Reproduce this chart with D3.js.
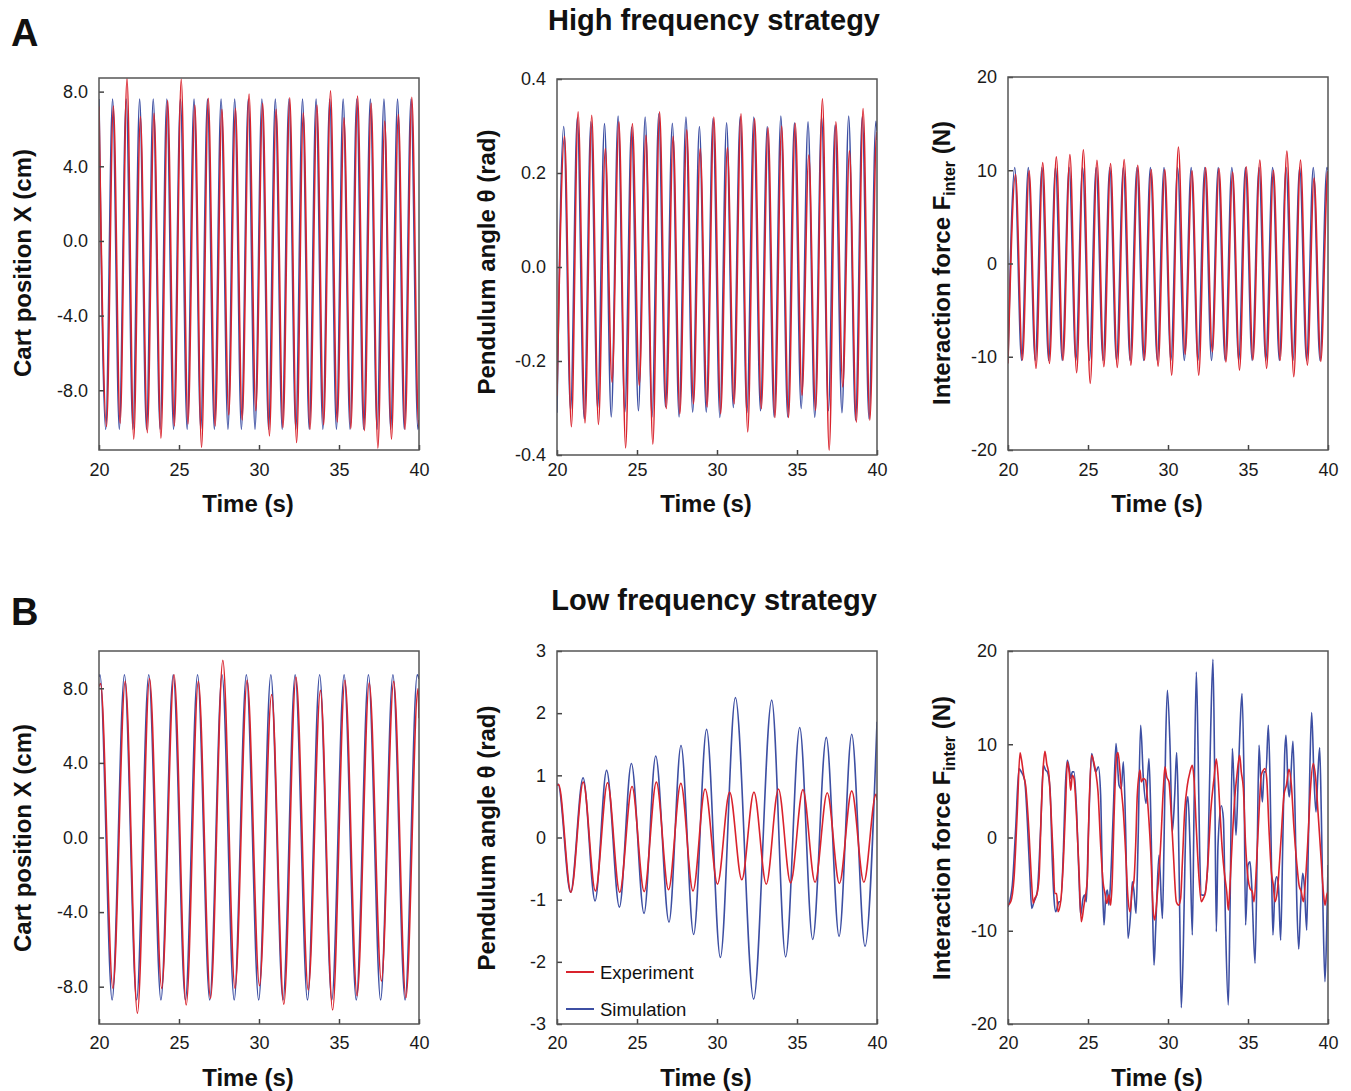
<!DOCTYPE html>
<html><head><meta charset="utf-8">
<script src="https://cdn.jsdelivr.net/npm/d3@7"></script>
<style>body{margin:0;background:#fff}</style>
</head><body><svg id="c" width="1351" height="1091" xmlns="http://www.w3.org/2000/svg"></svg>
<script>
// ---------- DATA ----------
const xTickValues = [20, 25, 30, 35, 40];

// High frequency: times of extrema (simulation / experiment)
const hfTime = [20.00, 20.42, 20.85, 21.27, 21.70, 22.12, 22.54, 22.97, 23.39, 23.82, 24.24, 24.66, 25.09, 25.51, 25.94, 26.36, 26.78, 27.21, 27.63, 28.06, 28.48, 28.90, 29.33, 29.75, 30.18, 30.60, 31.02, 31.45, 31.87, 32.30, 32.72, 33.14, 33.57, 33.99, 34.42, 34.84, 35.26, 35.69, 36.11, 36.54, 36.96, 37.38, 37.81, 38.23, 38.66, 39.08, 39.50, 39.93, 40.00];
const hfExpTime = [20.00, 20.47, 20.90, 21.32, 21.75, 22.17, 22.59, 23.02, 23.44, 23.87, 24.29, 24.71, 25.14, 25.56, 25.99, 26.41, 26.83, 27.26, 27.68, 28.11, 28.53, 28.95, 29.38, 29.80, 30.23, 30.65, 31.07, 31.50, 31.92, 32.35, 32.77, 33.19, 33.62, 34.04, 34.47, 34.89, 35.31, 35.74, 36.16, 36.59, 37.01, 37.43, 37.86, 38.28, 38.71, 39.13, 39.55, 39.98, 40.00];

const a1Sim = [7.6, -10.1, 7.6, -10.1, 7.6, -10.1, 7.6, -10.1, 7.6, -10.1, 7.6, -10.1, 7.6, -10.1, 7.6, -10.1, 7.6, -10.1, 7.6, -10.1, 7.6, -10.1, 7.6, -10.1, 7.6, -10.1, 7.6, -10.1, 7.6, -10.1, 7.6, -10.1, 7.6, -10.1, 7.6, -10.1, 7.6, -10.1, 7.6, -10.1, 7.6, -10.1, 7.6, -10.1, 7.6, -10.1, 7.6, -10.1, -9.6];
const a1Exp = [7.2, -9.94, 7.23, -9.77, 8.71, -10.62, 6.66, -10.27, 6.84, -10.57, 7.52, -9.91, 8.66, -9.80, 7.28, -11.07, 7.64, -9.91, 7.05, -9.32, 7.1, -9.59, 7.87, -9.09, 7.37, -10.45, 7.05, -10.0, 7.67, -10.8, 6.87, -10.09, 7.28, -9.85, 8.04, -9.7, 6.6, -10.05, 7.76, -10.16, 7.37, -11.1, 6.42, -10.62, 6.78, -10.1, 7.69, -9.95, -9.6];

const a2Sim = [-0.31, 0.299, -0.305, 0.318, -0.323, 0.309, -0.301, 0.305, -0.319, 0.321, -0.309, 0.298, -0.306, 0.319, -0.319, 0.326, -0.298, 0.306, -0.319, 0.319, -0.309, 0.299, -0.309, 0.316, -0.320, 0.307, -0.299, 0.32, -0.31, 0.319, -0.306, 0.299, -0.319, 0.321, -0.319, 0.307, -0.301, 0.309, -0.320, 0.319, -0.306, 0.302, -0.310, 0.321, -0.326, 0.32, -0.323, 0.31, 0.29];
const a2Exp = [-0.274, 0.278, -0.340, 0.330, -0.332, 0.323, -0.335, 0.252, -0.245, 0.309, -0.385, 0.305, -0.252, 0.280, -0.377, 0.330, -0.301, 0.278, -0.312, 0.292, -0.291, 0.252, -0.298, 0.319, -0.312, 0.254, -0.291, 0.326, -0.351, 0.316, -0.301, 0.296, -0.320, 0.300, -0.320, 0.306, -0.273, 0.238, -0.305, 0.358, -0.390, 0.309, -0.255, 0.247, -0.330, 0.337, -0.326, 0.287, 0.27];

const a3Sim = [-10.4, 10.3, -10.4, 10.3, -10.4, 10.3, -10.4, 10.3, -10.4, 10.3, -10.4, 10.3, -10.4, 10.3, -10.4, 10.3, -10.4, 10.3, -10.4, 10.3, -10.4, 10.3, -10.4, 10.3, -10.4, 10.3, -10.4, 10.3, -10.4, 10.3, -10.4, 10.3, -10.4, 10.3, -10.4, 10.3, -10.4, 10.3, -10.4, 10.3, -10.4, 10.3, -10.4, 10.3, -10.4, 10.3, -10.4, 10.3, 10.0];
const a3Exp = [-10.72, 9.57, -10.36, 9.93, -11.25, 10.82, -10.72, 11.43, -10.36, 11.68, -11.72, 12.2, -12.86, 11.07, -11.08, 10.72, -11.15, 11.15, -10.9, 10.54, -10.36, 10.07, -11.01, 10.07, -11.97, 12.5, -9.72, 9.93, -11.97, 10.29, -9.48, 10.18, -10.55, 9.82, -11.43, 10.36, -10.32, 11.1, -11.25, 10.0, -10.36, 12.07, -12.15, 11.1, -10.9, 9.17, -10.5, 9.82, 9.9];

// Low frequency
const lfTime = [20.00, 20.06, 20.82, 21.59, 22.35, 23.11, 23.87, 24.64, 25.40, 26.16, 26.92, 27.69, 28.45, 29.21, 29.98, 30.74, 31.50, 32.26, 33.03, 33.79, 34.55, 35.32, 36.08, 36.84, 37.60, 38.37, 39.13, 39.89, 40.00];
const lfExpTime = [20.00, 20.10, 20.87, 21.64, 22.40, 23.16, 23.92, 24.69, 25.45, 26.21, 26.97, 27.74, 28.50, 29.26, 30.03, 30.79, 31.55, 32.31, 33.08, 33.84, 34.60, 35.37, 36.13, 36.89, 37.65, 38.42, 39.18, 39.94, 40.00];

const b1Sim = [8.6, 8.73, -8.71, 8.73, -8.71, 8.73, -8.71, 8.73, -8.71, 8.73, -8.71, 8.73, -8.71, 8.73, -8.71, 8.73, -8.71, 8.73, -8.71, 8.73, -8.71, 8.73, -8.71, 8.73, -8.71, 8.73, -8.71, 8.73, 8.5];
const b1Exp = [8.1, 8.25, -8.09, 8.37, -9.43, 8.52, -8.09, 8.73, -8.98, 8.37, -8.62, 9.50, -8.09, 8.43, -7.95, 7.66, -8.95, 8.6, -8.18, 7.89, -9.25, 8.43, -8.48, 8.30, -7.70, 8.37, -8.59, 7.98, 6.4];

const b2SimTime = [20.00, 20.06, 20.85, 21.63, 22.38, 23.10, 23.90, 24.65, 25.44, 26.17, 27.00, 27.75, 28.54, 29.35, 30.21, 31.15, 32.29, 33.42, 34.29, 35.17, 35.98, 36.83, 37.63, 38.42, 39.25, 40.00];
const b2Sim = [0.84, 0.86, -0.88, 0.96, -1.02, 1.08, -1.12, 1.19, -1.22, 1.31, -1.36, 1.48, -1.56, 1.74, -1.93, 2.25, -2.6, 2.21, -1.92, 1.77, -1.64, 1.61, -1.59, 1.66, -1.75, 1.86];
const b2Exp = [0.84, 0.85, -0.88, 0.89, -0.86, 0.88, -0.88, 0.82, -0.87, 0.89, -0.84, 0.87, -0.86, 0.78, -0.75, 0.73, -0.68, 0.73, -0.75, 0.78, -0.73, 0.77, -0.72, 0.72, -0.74, 0.75, -0.72, 0.70, 0.6];

const b3ExpTime = [20.0, 20.17, 20.375, 20.58, 20.75, 20.83, 21.0, 21.1, 21.31, 21.46, 21.58, 21.67, 21.79, 21.94, 22.08, 22.21, 22.31, 22.42, 22.56, 22.67, 22.83, 22.92, 23.04, 23.125, 23.29, 23.46, 23.6, 23.71, 23.83, 23.92, 24.02, 24.125, 24.29, 24.44, 24.58, 24.75, 24.85, 24.96, 25.06, 25.23, 25.33, 25.48, 25.625, 25.79, 25.94, 26.06, 26.17, 26.31, 26.42, 26.52, 26.625, 26.79, 26.875, 27.0, 27.08, 27.21, 27.35, 27.5, 27.625, 27.77, 27.875, 27.98, 28.08, 28.25, 28.33, 28.46, 28.6, 28.71, 28.92, 29.08, 29.17, 29.33, 29.54, 29.71, 29.81, 29.92, 30.06, 30.17, 30.33, 30.52, 30.67, 30.79, 30.9, 31.04, 31.21, 31.375, 31.52, 31.625, 31.77, 31.94, 32.08, 32.21, 32.35, 32.5, 32.67, 32.875, 33.02, 33.125, 33.25, 33.4, 33.54, 33.67, 33.77, 33.875, 34.02, 34.17, 34.33, 34.48, 34.58, 34.71, 34.85, 35.0, 35.125, 35.27, 35.375, 35.54, 35.69, 35.83, 35.96, 36.06, 36.17, 36.31, 36.46, 36.58, 36.69, 36.83, 37.04, 37.25, 37.4, 37.56, 37.71, 37.875, 38.04, 38.19, 38.33, 38.46, 38.6, 38.77, 38.92, 39.08, 39.23, 39.375, 39.54, 39.71, 39.81, 39.92, 40.0];
const b3Exp = [-7.25, -6.89, -4.39, 2.75, 9.07, 8.47, 6.50, 5.61, 0.61, -4.39, -7.07, -6.53, -6.18, -4.39, 2.75, 7.75, 9.25, 7.93, 6.68, 3.47, -2.25, -6.0, -6.0, -7.96, -6.89, -2.6, 3.47, 8.11, 6.86, 5.07, 6.68, 6.32, 2.04, -3.68, -9.03, -7.25, -6.18, -4.39, 2.75, 8.82, 8.29, 7.04, 4.9, -0.82, -4.75, -6.0, -7.07, -6.18, -7.25, -4.39, 2.04, 8.82, 9.11, 7.04, 5.25, 2.75, -1.53, -6.53, -7.96, -5.46, -4.57, -0.82, 4.54, 7.22, 5.97, 6.32, 6.15, 4.18, -1.53, -7.96, -8.85, -6.18, -0.82, 5.25, 7.57, 6.5, 5.97, 3.47, -1.53, -6.89, -7.25, -6.53, -2.6, 2.75, 5.61, 7.04, 7.75, 6.32, 0.97, -4.39, -6.89, -6.53, -5.82, -2.6, 2.75, 6.32, 8.4, 6.68, 2.75, -1.53, -4.03, -5.82, -7.78, -5.1, -0.1, 4.18, 7.04, 8.82, 7.04, 5.25, -0.82, -4.39, -5.46, -5.82, -6.89, -2.6, 2.75, 6.68, 7.22, 7.4, 6.32, 0.97, -3.68, -5.1, -6.89, -5.82, -0.82, 4.54, 5.61, 7.32, 5.61, 0.97, -2.6, -5.1, -5.82, -6.89, -4.39, 0.61, 5.61, 7.93, 6.32, 2.75, -1.53, -5.82, -7.25, -6.18, -5.82];
const b3SimTime = [20.0, 20.27, 20.48, 20.69, 20.83, 21.04, 21.21, 21.375, 21.48, 21.625, 21.83, 22.04, 22.21, 22.35, 22.46, 22.625, 22.77, 22.875, 22.98, 23.19, 23.29, 23.46, 23.58, 23.71, 23.83, 23.92, 24.02, 24.125, 24.29, 24.44, 24.54, 24.69, 24.79, 24.9, 25.0, 25.125, 25.23, 25.375, 25.48, 25.65, 25.79, 25.9, 26.0, 26.1, 26.21, 26.31, 26.42, 26.58, 26.75, 26.94, 27.08, 27.21, 27.35, 27.5, 27.67, 27.77, 27.875, 28.0, 28.125, 28.29, 28.46, 28.625, 28.81, 28.92, 29.02, 29.125, 29.23, 29.44, 29.65, 29.75, 29.85, 29.96, 30.125, 30.27, 30.42, 30.54, 30.625, 30.73, 30.83, 30.96, 31.06, 31.17, 31.25, 31.375, 31.52, 31.625, 31.77, 31.875, 31.98, 32.1, 32.25, 32.46, 32.56, 32.67, 32.81, 32.92, 33.02, 33.125, 33.33, 33.46, 33.6, 33.77, 33.875, 34.02, 34.125, 34.25, 34.375, 34.5, 34.625, 34.75, 34.85, 35.0, 35.125, 35.23, 35.44, 35.58, 35.69, 35.79, 35.9, 36.0, 36.125, 36.27, 36.375, 36.48, 36.56, 36.69, 36.79, 36.9, 37.04, 37.17, 37.29, 37.375, 37.5, 37.58, 37.67, 37.81, 37.94, 38.04, 38.17, 38.29, 38.42, 38.52, 38.67, 38.77, 38.875, 38.98, 39.125, 39.25, 39.375, 39.48, 39.58, 39.69, 39.81, 39.92, 40.0];
const b3Sim = [-7.43, -5.1, 0.97, 7.4, 7.04, 6.15, 1.68, -4.39, -7.6, -6.89, -5.82, 0.97, 7.75, 7.22, 7.04, 5.25, -2.6, -6.53, -7.96, -6.89, -6.89, -1.53, 5.25, 8.29, 7.4, 6.32, 7.04, 7.04, 2.75, -4.39, -8.32, -6.53, -6.18, -6.89, -0.82, 5.61, 9.0, 7.75, 7.04, 7.57, 4.54, -4.39, -9.39, -6.53, -5.64, -7.25, -4.39, 2.75, 10.07, 5.61, 5.25, 8.11, 0.97, -10.82, -7.96, -4.75, -5.82, -8.14, -0.82, 12.04, 6.32, 3.65, 8.47, 2.75, -6.18, -13.68, -9.75, -1.89, -8.68, -0.82, 9.9, 15.79, 9.9, 0.61, 4.54, 9.11, 4.54, -7.96, -18.25, -11.53, -2.6, 3.82, 4.36, -0.82, -10.46, 2.75, 17.75, 9.9, -1.53, -6.18, -6.18, -3.68, 2.75, 11.68, 19.11, 6.32, -10.1, -0.82, 3.4, 2.04, -9.75, -17.96, -7.96, 9.54, 5.61, 0.25, 5.61, 11.68, 15.43, 6.32, -9.39, -2.96, -2.6, -5.1, -13.5, -0.82, 9.9, 6.32, 3.82, 7.04, 7.04, 12.04, 6.32, -4.39, -10.46, -5.1, -4.21, -5.1, -11.0, -0.82, 8.82, 10.97, 5.61, 4.36, 6.32, 10.32, 2.75, -6.18, -11.96, -7.25, -3.85, -5.1, -9.93, -0.82, 8.11, 13.4, 6.32, 2.75, 7.04, 9.61, 2.75, -7.96, -15.46, -9.75, -2.96];

const cartTicks = [-8, -4, 0, 4, 8];
const angleTicksHF = [-0.4, -0.2, 0, 0.2, 0.4];
const angleTicksLF = [-3, -2, -1, 0, 1, 2, 3];
const forceTicks = [-20, -10, 0, 10, 20];

// ---------- DRAWING ----------
const svg = d3.select('#c');
const RED = '#d9232d', BLUE = '#3d4fa3';
const FONT = '"Liberation Sans", Arial, Helvetica, sans-serif';
const f1 = v => v.toFixed(1);
const f0 = v => String(v);

function panel(cfg) {
  const x = d3.scaleLinear().domain([20, 40]).range([cfg.x0, cfg.x1]);
  const y = d3.scaleLinear().domain(cfg.yDomain).range([cfg.y1, cfg.y0]);
  const g = svg.append('g');
  const cid = 'clip' + cfg.id;
  svg.append('clipPath').attr('id', cid).append('rect')
    .attr('x', cfg.x0).attr('y', cfg.y0).attr('width', cfg.x1 - cfg.x0).attr('height', cfg.y1 - cfg.y0);
  const line = d3.line().x(d => x(d[0])).y(d => y(d[1])).curve(d3.curveMonotoneX);
  cfg.series.forEach(s => {
    g.append('path').datum(d3.zip(s.t, s.v)).attr('d', line)
      .attr('fill', 'none').attr('stroke', s.color).attr('stroke-width', 1.6)
      .attr('stroke-linejoin', 'round').attr('clip-path', `url(#${cid})`);
  });
  const ya = g.append('g').attr('transform', `translate(${cfg.x0},0)`)
    .call(d3.axisLeft(y).tickValues(cfg.yTicks).tickFormat(cfg.fmt).tickSize(-5).tickPadding(11));
  const xa = g.append('g').attr('transform', `translate(0,${cfg.y1})`)
    .call(d3.axisBottom(x).tickValues(xTickValues).tickFormat(f0).tickSize(-5).tickPadding(cfg.xpad));
  [ya, xa].forEach(a => {
    a.select('.domain').remove();
    a.selectAll('text').attr('font-family', FONT).attr('font-size', 18).attr('fill', '#1a1a1a');
    a.selectAll('line').attr('stroke', '#444').attr('stroke-width', 1.5);
  });
  g.append('rect').attr('x', cfg.x0).attr('y', cfg.y0).attr('width', cfg.x1 - cfg.x0).attr('height', cfg.y1 - cfg.y0)
    .attr('fill', 'none').attr('stroke', '#555').attr('stroke-width', 1.5);
  // x label
  g.append('text').attr('x', (cfg.x0 + cfg.x1) / 2 - 11).attr('y', cfg.xlabY).attr('text-anchor', 'middle')
    .attr('font-family', FONT).attr('font-weight', 'bold').attr('font-size', 24).attr('fill', '#111').text('Time (s)');
  // y label
  const yl = g.append('text').attr('transform', `translate(${cfg.ylabX},${cfg.ylabY}) rotate(-90)`)
    .attr('text-anchor', 'middle').attr('font-family', FONT).attr('font-weight', 'bold').attr('font-size', 24).attr('fill', '#111');
  if (cfg.ylab === 'force') {
    yl.append('tspan').text('Interaction force F');
    yl.append('tspan').attr('font-size', 16).attr('dy', 5).text('inter');
    yl.append('tspan').attr('dy', -5).text(' (N)');
  } else {
    yl.text(cfg.ylab);
  }
  return { x, y };
}

panel({ id: 'a1', x0: 99, x1: 419, y0: 78, y1: 450, yDomain: [-11.2, 8.73], yTicks: cartTicks, fmt: f1,
  ylab: 'Cart position X (cm)', ylabX: 31, ylabY: 263, xlabY: 512, xpad: 13.5,
  series: [{ t: hfTime, v: a1Sim, color: BLUE }, { t: hfExpTime, v: a1Exp, color: RED }] });
panel({ id: 'a2', x0: 557, x1: 877, y0: 79, y1: 455, yDomain: [-0.4, 0.4], yTicks: angleTicksHF, fmt: f1,
  ylab: 'Pendulum angle \u03b8 (rad)', ylabX: 495, ylabY: 262, xlabY: 512, xpad: 8.5,
  series: [{ t: hfTime, v: a2Sim, color: BLUE }, { t: hfExpTime, v: a2Exp, color: RED }] });
panel({ id: 'a3', x0: 1008, x1: 1328, y0: 77, y1: 450, yDomain: [-20, 20], yTicks: forceTicks, fmt: f0,
  ylab: 'force', ylabX: 950, ylabY: 263, xlabY: 512, xpad: 13.5,
  series: [{ t: hfTime, v: a3Sim, color: BLUE }, { t: hfExpTime, v: a3Exp, color: RED }] });

panel({ id: 'b1', x0: 99, x1: 419, y0: 651, y1: 1024, yDomain: [-10, 10], yTicks: cartTicks, fmt: f1,
  ylab: 'Cart position X (cm)', ylabX: 31, ylabY: 838, xlabY: 1086, xpad: 12.5,
  series: [{ t: lfTime, v: b1Sim, color: BLUE }, { t: lfExpTime, v: b1Exp, color: RED }] });
panel({ id: 'b2', x0: 557, x1: 877, y0: 651, y1: 1024, yDomain: [-3, 3], yTicks: angleTicksLF, fmt: f0,
  ylab: 'Pendulum angle \u03b8 (rad)', ylabX: 495, ylabY: 838, xlabY: 1086, xpad: 12.5,
  series: [{ t: b2SimTime, v: b2Sim, color: BLUE }, { t: lfExpTime, v: b2Exp, color: RED }] });
panel({ id: 'b3', x0: 1008, x1: 1328, y0: 651, y1: 1024, yDomain: [-20, 20], yTicks: forceTicks, fmt: f0,
  ylab: 'force', ylabX: 950, ylabY: 838, xlabY: 1086, xpad: 12.5,
  series: [{ t: b3SimTime, v: b3Sim, color: BLUE }, { t: b3ExpTime, v: b3Exp, color: RED }] });

// legend
const leg = svg.append('g');
[['Experiment', RED, 972], ['Simulation', BLUE, 1009]].forEach(([lab, col, yy]) => {
  leg.append('line').attr('x1', 566).attr('x2', 594).attr('y1', yy).attr('y2', yy).attr('stroke', col).attr('stroke-width', 2);
  leg.append('text').attr('x', 600).attr('y', yy + 6.5).attr('font-family', FONT).attr('font-size', 18.5).attr('fill', '#111').text(lab);
});

// titles & panel letters
const T = (x, y, s, size, anchor) => svg.append('text').attr('x', x).attr('y', y).attr('text-anchor', anchor)
  .attr('font-family', FONT).attr('font-weight', 'bold').attr('font-size', size).attr('fill', '#111').text(s);
T(714, 30, 'High frequency strategy', 29, 'middle');
T(714, 610, 'Low frequency strategy', 29, 'middle');
T(11, 46, 'A', 38, 'start');
T(11, 625, 'B', 38, 'start');
</script></body></html>
